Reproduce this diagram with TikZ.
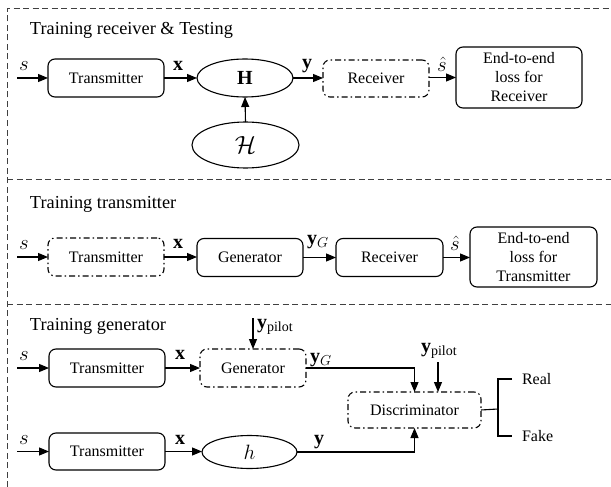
\documentclass[tikz,border=0pt]{standalone}
\usepackage{fontspec}
\setmainfont{Liberation Serif}
\usetikzlibrary{arrows.meta,shapes.geometric}
\begin{document}
\begin{tikzpicture}[x=1pt,y=-1pt,
  every node/.style={inner sep=0pt,outer sep=0pt},
  txt/.style={font=\rmfamily\fontsize{16}{19}\selectfont},
  ttl/.style={font=\rmfamily\fontsize{18.3}{22}\selectfont,anchor=base west},
  mlab/.style={font=\fontsize{20}{22}\selectfont},
  blk/.style={draw,rounded corners=7pt,line width=1.1pt,txt,align=center},
  dblk/.style={blk,dash pattern=on 6pt off 3pt on 1.5pt off 3pt},
  ell/.style={draw,ellipse,line width=1.1pt},
  frame/.style={draw=black!75,line width=1pt,dash pattern=on 6pt off 3.5pt},
  conn/.style={line width=1.1pt},
  arr/.style={conn,-{Triangle[length=10pt,width=8pt]}}]
\useasboundingbox (0,0) rectangle (611,487);
% frame
\coordinate (fTL) at (7,9); \coordinate (fTR) at (611,9);
\coordinate (fBL) at (7,487);
\coordinate (s1L) at (7,179.5); \coordinate (s1R) at (611,179.5);
\coordinate (s2L) at (7,304); \coordinate (s2R) at (611,304);
\draw[frame] (fBL) -- (fTL) -- (fTR);
\draw[frame] (s1L) -- (s1R);
\draw[frame] (s2L) -- (s2R);
% titles
\node[ttl] (t1) at (30,35) {Training receiver \& Testing};
\node[ttl] (t2) at (30,208) {Training transmitter};
\node[ttl] (t3) at (30,330) {Training generator};
% row 1
\coordinate (in1) at (17,78);
\node[blk,minimum width=116pt,minimum height=38pt] (T1) at (106,78) {Transmitter};
\node[ell,minimum width=96pt,minimum height=38pt] (H) at (245,78) {\fontsize{20}{22}\selectfont$\mathbf{H}$};
\node[ell,minimum width=107pt,minimum height=46pt] (HH) at (245.5,145) {\fontsize{26}{28}\selectfont$\mathcal{H}$};
\node[dblk,minimum width=106pt,minimum height=37pt] (R1) at (376,78.5) {Receiver};
\node[blk,minimum width=126pt,minimum height=61pt] (E1) at (519,77.5) {End-to-end\\loss for\\Receiver};
\draw[arr] (in1) -- (T1.west);
\draw[arr] (T1.east) -- (H.west);
\draw[arr] (HH.north) -- (H.south);
\draw[arr] (H.east) -- (R1.west|-H.east);
\draw[arr] (R1.east|-E1.west) -- (E1.west);
\node[mlab] (l1s) at (24,66) {$s$};
\node[mlab] (l1x) at (178,66) {$\mathbf{x}$};
\node[mlab] (l1y) at (307,66) {$\mathbf{y}$};
\node[mlab] (l1sh) at (442,64) {$\hat{s}$};
% row 2
\coordinate (in2) at (17,257);
\node[dblk,minimum width=116pt,minimum height=38pt] (T2) at (106,257) {Transmitter};
\node[blk,minimum width=106pt,minimum height=38pt] (G2) at (250,257.5) {Generator};
\node[blk,minimum width=107pt,minimum height=38pt] (R2) at (389.5,257.5) {Receiver};
\node[blk,minimum width=127pt,minimum height=60pt] (E2) at (533.5,257) {End-to-end\\loss for\\Transmitter};
\draw[arr] (in2) -- (T2.west);
\draw[arr] (T2.east) -- (G2.west|-T2.east);
\draw[arr] (G2.east) -- (R2.west);
\draw[arr] (R2.east) -- (E2.west|-R2.east);
\node[mlab] (l2s) at (24,245) {$s$};
\node[mlab] (l2x) at (178,244) {$\mathbf{x}$};
\node[mlab] (l2y) at (318,242) {$\mathbf{y}_G$};
\node[mlab] (l2sh) at (455,243) {$\hat{s}$};
% row 3
\coordinate (in3) at (17,368);
\coordinate (in4) at (17,451.5);
\node[blk,minimum width=116pt,minimum height=38pt] (T3) at (107,368) {Transmitter};
\node[dblk,minimum width=106pt,minimum height=38pt] (G3) at (253,368) {Generator};
\node[dblk,minimum width=133pt,minimum height=36pt] (D) at (414.5,410) {Discriminator};
\node[blk,minimum width=116pt,minimum height=37pt] (T4) at (107,451.5) {Transmitter};
\node[ell,minimum width=95pt,minimum height=33pt] (h) at (249.5,452) {\fontsize{20}{22}\selectfont$h$};
\coordinate (p1) at (253,318);
\coordinate (p2) at (438,362);
\coordinate (j) at (498,409);
\draw[arr] (in3) -- (T3.west);
\draw[arr] (T3.east) -- (G3.west);
\draw[arr] (p1) -- (G3.north);
\draw[arr] (G3.east) -| (D.north);
\draw[arr] (p2) -- (p2|-D.north);
\draw[arr] (in4) -- (T4.west);
\draw[arr] (T4.east) -- (h.west|-T4.east);
\draw[arr] (h.east) -| (D.south);
\node[txt,anchor=west] (real) at (522,379) {Real};
\node[txt,anchor=west] (fake) at (522,436) {Fake};
\draw[conn] (D.east) -- (j);
\draw[conn] ([xshift=-10pt]real.west) -| (j) |- ([xshift=-10pt]fake.west);
\node[mlab] (l3s) at (24,356) {$s$};
\node[mlab] (l3x) at (180,355) {$\mathbf{x}$};
\node[mlab,anchor=west] (l3p) at (257,327) {$\mathbf{y}_{\mathrm{pilot}}$};
\node[mlab] (l3y) at (321,360) {$\mathbf{y}_G$};
\node[mlab,anchor=west] (l3p2) at (421,351) {$\mathbf{y}_{\mathrm{pilot}}$};
\node[mlab] (l4s) at (24,440) {$s$};
\node[mlab] (l4x) at (180,440) {$\mathbf{x}$};
\node[mlab] (l4y) at (319,442) {$\mathbf{y}$};
\end{tikzpicture}
\end{document}
